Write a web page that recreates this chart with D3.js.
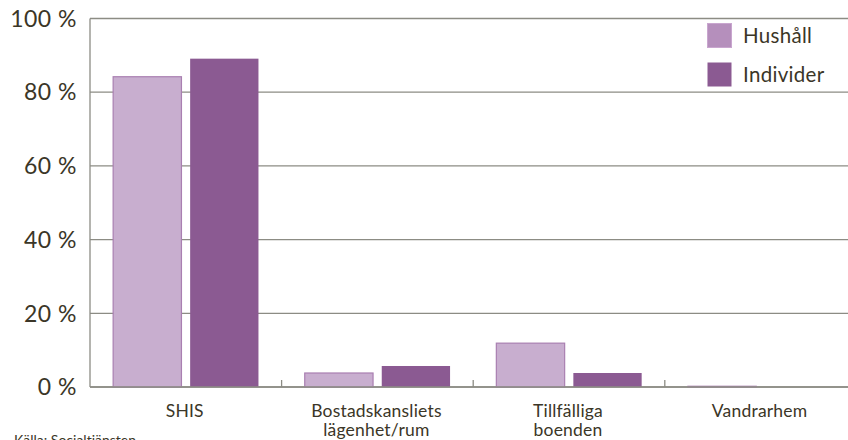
<!DOCTYPE html>
<html>
<head>
<meta charset="utf-8">
<script src="https://cdn.jsdelivr.net/npm/d3@7"></script>
<style>
  body { margin: 0; background: #fff; }
  text { font-family: Lato, "Noto Sans", sans-serif; fill: #3b3627; }
</style>
</head>
<body>
<div id="chart"></div>
<script>
// data
var categories = [["SHIS"], ["Bostadskansliets", "lägenhet/rum"], ["Tillfälliga", "boenden"], ["Vandrarhem"]];
var seriesNames = ["Hushåll", "Individer"];
var hushall = [84.2, 3.8, 11.9, 0.2];
var individer = [89.1, 5.7, 3.8, 0];
var yTicks = [0, 20, 40, 60, 80, 100];

var colors = { "Hushåll": "#c8aecf", "Individer": "#8b5a92" };
var strokes = { "Hushåll": "#a97fb1", "Individer": "none" };

var W = 848, H = 440;
var margin = {top: 18.5, left: 90, bottom: 53};
var plotBottom = H - margin.bottom;

var svg = d3.select("#chart").append("svg")
  .attr("width", W)
  .attr("height", H);

var catKeys = categories.map(function(d) { return d.join(" "); });

var x = d3.scaleBand()
  .domain(catKeys)
  .range([margin.left, margin.left + 4 * 191.6]);

var x1 = d3.scaleBand()
  .domain(seriesNames)
  .range([0, x.bandwidth()])
  .paddingInner(0.1)
  .paddingOuter(0.294);

var y = d3.scaleLinear()
  .domain([0, 100])
  .range([plotBottom, margin.top]);

// gridlines
svg.append("g")
  .selectAll("line")
  .data(yTicks)
  .enter()
  .append("line")
    .attr("x1", margin.left)
    .attr("x2", W)
    .attr("y1", function(d) { return y(d); })
    .attr("y2", function(d) { return y(d); })
    .attr("stroke", "#8c8c84")
    .attr("stroke-width", 1.3);

// y labels
svg.append("g")
  .selectAll("text")
  .data(yTicks)
  .enter()
  .append("text")
    .attr("x", 77)
    .attr("y", function(d) { return y(d); })
    .attr("dy", "0.36em")
    .attr("text-anchor", "end")
    .style("font-size", "23px")
    .style("letter-spacing", "0.5px")
    .text(function(d) { return d + " %"; });

// bars
var data = catKeys.map(function(k, i) {
  return { cat: k, values: [
    { name: "Hushåll", value: hushall[i] },
    { name: "Individer", value: individer[i] }
  ]};
});

svg.append("g")
  .selectAll("g")
  .data(data)
  .enter()
  .append("g")
    .attr("transform", function(d) { return "translate(" + x(d.cat) + ",0)"; })
  .selectAll("rect")
  .data(function(d) { return d.values; })
  .enter()
  .append("rect")
    .attr("x", function(d) { return x1(d.name) + 0.5; })
    .attr("width", x1.bandwidth() - 1)
    .attr("y", function(d) { return y(d.value); })
    .attr("height", function(d) { return plotBottom - y(d.value); })
    .attr("fill", function(d) { return colors[d.name]; })
    .attr("stroke", function(d) { return strokes[d.name]; })
    .attr("stroke-width", 1.2);

// axes lines
svg.append("line")
  .attr("x1", margin.left).attr("x2", margin.left)
  .attr("y1", margin.top).attr("y2", plotBottom)
  .attr("stroke", "#8c8c84").attr("stroke-width", 1.3);

svg.append("line")
  .attr("x1", margin.left).attr("x2", W)
  .attr("y1", plotBottom).attr("y2", plotBottom)
  .attr("stroke", "#8c8c84").attr("stroke-width", 1.6);

// ticks between categories
svg.append("g")
  .selectAll("line")
  .data(catKeys.slice(1))
  .enter()
  .append("line")
    .attr("x1", function(d) { return x(d); })
    .attr("x2", function(d) { return x(d); })
    .attr("y1", plotBottom - 7)
    .attr("y2", plotBottom)
    .attr("stroke", "#8c8c84")
    .attr("stroke-width", 1.3);

// category labels
svg.append("g")
  .selectAll("text")
  .data(categories)
  .enter()
  .append("text")
    .attr("text-anchor", "middle")
    .attr("transform", function(d, i) { return "translate(" + (x(catKeys[i]) + x.bandwidth() / 2 - 1) + ",417)"; })
    .style("font-size", "17.5px")
    .style("letter-spacing", "0.2px")
    .selectAll("tspan")
    .data(function(d) { return d; })
    .enter()
    .append("tspan")
      .attr("x", 0)
      .attr("y", function(d, i) { return i * 19; })
      .text(function(d) { return d; });

// legend
var legend = svg.append("g")
  .attr("transform", "translate(707,23)");

legend.append("rect")
  .attr("x", -12).attr("y", -3)
  .attr("width", 141).attr("height", 68)
  .attr("fill", "#fff");

var li = legend.selectAll("g")
  .data(seriesNames)
  .enter()
  .append("g")
    .attr("transform", function(d, i) { return "translate(0," + (i * 39) + ")"; });

li.append("rect")
  .attr("x", 0.5).attr("y", 0.5)
  .attr("width", 24).attr("height", 24)
  .attr("fill", function(d) { return d == "Hushåll" ? "#b58fbc" : colors[d]; })
  .attr("stroke", function(d) { return d == "Hushåll" ? "#c9a6cf" : "none"; });

li.append("text")
  .attr("x", 36)
  .attr("y", 13)
  .attr("dy", "0.36em")
  .style("font-size", "20.5px")
  .style("letter-spacing", "0.3px")
  .text(function(d) { return d; });

// source, cut by the bottom edge as in the original
svg.append("text")
  .attr("x", 14)
  .attr("y", 445)
  .style("font-size", "14px")
  .text("Källa: Socialtjänsten");
</script>
</body>
</html>
